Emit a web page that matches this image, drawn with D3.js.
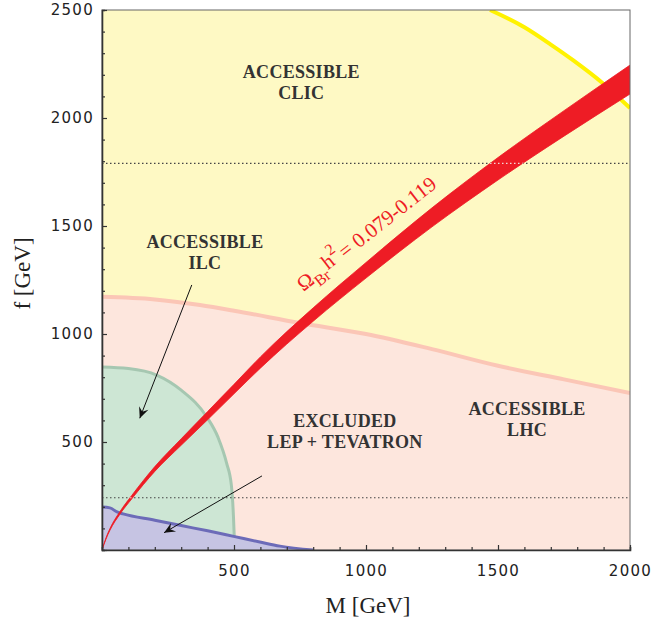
<!DOCTYPE html>
<html>
<head>
<meta charset="utf-8">
<script src="https://cdn.jsdelivr.net/npm/d3@7"></script>
<style>
  body { margin: 0; background: #fff; }
  .tick text { font-family: "DejaVu Sans", sans-serif; font-size: 15px; letter-spacing: 1.3px; fill: #222; }
  .lbl { font-family: "Liberation Serif", serif; font-weight: bold; font-size: 18px; letter-spacing: 0.3px; fill: #333; text-anchor: middle; }
</style>
</head>
<body>
<div id="chart-container"></div>
<script>
// data (M and f in GeV)

// reach of CLIC (yellow contour)
const clicM = [1470, 1600, 1700, 1784, 1898, 2000];
const clicF = [2500, 2420, 2340, 2268, 2160, 2046];

// reach of LHC (pink contour)
const lhcM = [0, 200, 371, 500, 750, 1000, 1250, 1500, 1750, 2000];
const lhcF = [1172, 1160, 1134, 1108, 1051, 1000, 930, 853, 790, 727];

// reach of ILC (green contour)
const ilcM = [0, 100, 207, 300, 397, 440, 472, 490, 498, 501];
const ilcF = [847, 840, 810, 740, 616, 520, 402, 300, 154, 62];

// excluded by LEP + Tevatron (blue contour)
const exclM = [0, 30, 57, 80, 200, 300, 400, 503, 598, 674, 800];
const exclF = [199, 195, 176, 167, 138, 113, 89, 62, 37, 18, 0];

// relic density band
const bandM    = [0, 15, 30, 68, 113, 200, 300, 400, 500, 600, 800, 1000, 1250, 1500, 1750, 2000];
const bandLow  = [0, 50, 91, 166, 237, 364, 485, 603, 723, 842, 1059, 1259, 1496, 1713, 1916, 2111];
const bandHigh = [0, 56, 99, 178, 253, 386, 515, 641, 767, 894, 1121, 1331, 1584, 1817, 2034, 2245];

// dotted reference lines
const dottedF = [1790, 242];

const xTicks = d3.range(0, 2001, 100);
const yTicks = d3.range(0, 2501, 100);

const margin = {top: 10, right: 24, bottom: 69, left: 102};
const width = 654 - margin.left - margin.right;
const height = 619 - margin.top - margin.bottom;

const x = d3.scaleLinear().domain([0, 2000]).range([0, width]);
const y = d3.scaleLinear().domain([0, 2500]).range([height, 0]);

const svg = d3.select("#chart-container")
  .append("svg")
  .attr("width", width + margin.left + margin.right)
  .attr("height", height + margin.top + margin.bottom)
  .append("g")
  .attr("transform", `translate(${margin.left},${margin.top})`);

const defs = svg.append("defs");
defs.append("clipPath").attr("id", "plot")
  .append("rect").attr("width", width).attr("height", height);

const plot = svg.append("g").attr("clip-path", "url(#plot)");

const zip = (ms, fs) => ms.map((m, i) => [m, fs[i]]);
const line = d3.line().x(d => x(d[0])).y(d => y(d[1])).curve(d3.curveMonotoneX);
const area = d3.area().x(d => x(d[0])).y0(y(0)).y1(d => y(d[1])).curve(d3.curveMonotoneX);

// CLIC region: below the contour, including the top-left corner
const clic = zip(clicM, clicF);
plot.append("path")
  .attr("d", `M${x(0)},${y(2500)}L` + line(clic).slice(1) + `L${x(2000)},${y(0)}L${x(0)},${y(0)}Z`)
  .attr("fill", "#fef9c4");

// LHC region
const lhc = zip(lhcM, lhcF);
plot.append("path").datum(lhc).attr("d", area).attr("fill", "#fde6dd");

// ILC region
const ilc = zip(ilcM, ilcF);
plot.append("path").datum(ilc)
  .attr("d", d => line(d) + `L${x(ilcM[ilcM.length - 1])},${y(0)}L${x(0)},${y(0)}Z`)
  .attr("fill", "#cde6d4");

// excluded region
const excl = zip(exclM, exclF);
plot.append("path").datum(excl).attr("d", area).attr("fill", "#c6c4e3");

// contour lines
plot.append("path").datum(clic).attr("d", line)
  .attr("fill", "none").attr("stroke", "#fff200").attr("stroke-width", 4);
plot.append("path").datum(lhc).attr("d", line)
  .attr("fill", "none").attr("stroke", "#fbc6b6").attr("stroke-width", 4);
plot.append("path").datum(ilc).attr("d", line)
  .attr("fill", "none").attr("stroke", "#a6c7b1").attr("stroke-width", 3);
plot.append("path").datum(excl).attr("d", line)
  .attr("fill", "none").attr("stroke", "#6c6bb8").attr("stroke-width", 3);

// dotted lines
plot.selectAll(".dotted")
  .data(dottedF)
  .join("line")
  .attr("x1", 0).attr("x2", width)
  .attr("y1", d => y(d)).attr("y2", d => y(d))
  .attr("stroke", "#444").attr("stroke-width", 1.2)
  .attr("stroke-dasharray", "1.5,2.5");

// relic density band
const band = d3.area()
  .x((d, i) => x(bandM[i]))
  .y0((d, i) => y(bandLow[i]))
  .y1((d, i) => y(bandHigh[i]))
  .curve(d3.curveMonotoneX);
plot.append("path").datum(bandM).attr("d", band)
  .attr("fill", "#ee1c25").attr("stroke", "#ee1c25").attr("stroke-width", 0.8);

// the dotted lines show through the band as pale dots
defs.append("clipPath").attr("id", "bandclip")
  .append("path").datum(bandM).attr("d", band);
plot.append("g").attr("clip-path", "url(#bandclip)")
  .selectAll("line")
  .data(dottedF)
  .join("line")
  .attr("x1", 0).attr("x2", width)
  .attr("y1", d => y(d)).attr("y2", d => y(d))
  .attr("stroke", "#f4d8d8").attr("stroke-width", 1.2)
  .attr("stroke-dasharray", "1.5,2.5");

// frame
svg.append("rect").attr("width", width).attr("height", height)
  .attr("fill", "none").attr("stroke", "#666").attr("stroke-width", 1);

// axes, ticks pointing inward
const xAxis = svg.append("g")
  .attr("transform", `translate(0,${height})`)
  .call(d3.axisBottom(x)
    .tickValues(xTicks)
    .tickSize(-3)
    .tickPadding(15)
    .tickFormat(d => d % 500 === 0 && d > 0 ? d : ""));
const yAxis = svg.append("g")
  .call(d3.axisLeft(y)
    .tickValues(yTicks)
    .tickSize(-3)
    .tickPadding(8)
    .tickFormat(d => d % 500 === 0 && d > 0 ? d : ""));

[xAxis, yAxis].forEach(g => {
  g.select(".domain").attr("stroke", "#333").attr("stroke-width", 1.6);
  g.selectAll(".tick line").attr("stroke", "#333").attr("stroke-width", 1.2);
  g.selectAll(".tick").filter(d => d % 500 === 0).select("line")
    .attr(g === xAxis ? "y2" : "x2", g === xAxis ? -5 : 5);
});

// axis titles
svg.append("text")
  .attr("x", x(1000) + 2).attr("y", height + 63)
  .attr("text-anchor", "middle")
  .style("font-family", "Liberation Serif, serif").style("font-size", "23px").style("fill", "#222")
  .text("M [GeV]");
svg.append("text")
  .attr("transform", `translate(${-72},${y(1280)}) rotate(-90)`)
  .attr("text-anchor", "middle")
  .style("font-family", "Liberation Serif, serif").style("font-size", "23px").style("fill", "#222")
  .text("f [GeV]");

// region labels
const labels = [
  {m: 755, f: 2185, lines: ["ACCESSIBLE", "CLIC"]},
  {m: 390, f: 1400, lines: ["ACCESSIBLE", "ILC"]},
  {m: 920, f: 570, lines: ["EXCLUDED", "LEP + TEVATRON"]},
  {m: 1610, f: 625, lines: ["ACCESSIBLE", "LHC"]}
];
labels.forEach(l => {
  const t = svg.append("text").attr("class", "lbl");
  l.lines.forEach((s, i) => {
    t.append("tspan").attr("x", x(l.m)).attr("y", y(l.f) + i * 21).text(s);
  });
});

// band label
const om = svg.append("text")
  .attr("transform", `translate(${x(763)},${y(1195)}) rotate(-38)`)
  .style("font-family", "Liberation Serif, serif").style("font-size", "21px").style("fill", "#ee1c25");
om.append("tspan").text("Ω");
om.append("tspan").attr("dy", 6).style("font-size", "16px").text("Br");
om.append("tspan").attr("dy", -8).attr("dx", 1).text("h");
om.append("tspan").attr("dy", -10).style("font-size", "16px").text("2");
om.append("tspan").attr("dy", 12).attr("dx", 2).text("= 0.079-0.119");

// arrows
defs.append("marker")
  .attr("id", "head")
  .attr("viewBox", "-12 -6 14 12")
  .attr("markerWidth", 14).attr("markerHeight", 12)
  .attr("markerUnits", "userSpaceOnUse")
  .attr("orient", "auto")
  .append("path")
  .attr("d", "M0,0L-11,-5L-7,0L-11,5Z")
  .attr("fill", "#111");

const arrows = [
  {m0: 340, f0: 1227, m1: 143, f1: 610},
  {m0: 606, f0: 343, m1: 235, f1: 80}
];
svg.selectAll(".arrow")
  .data(arrows)
  .join("line")
  .attr("x1", d => x(d.m0)).attr("y1", d => y(d.f0))
  .attr("x2", d => x(d.m1)).attr("y2", d => y(d.f1))
  .attr("stroke", "#111").attr("stroke-width", 1)
  .attr("marker-end", "url(#head)");
</script>
</body>
</html>
